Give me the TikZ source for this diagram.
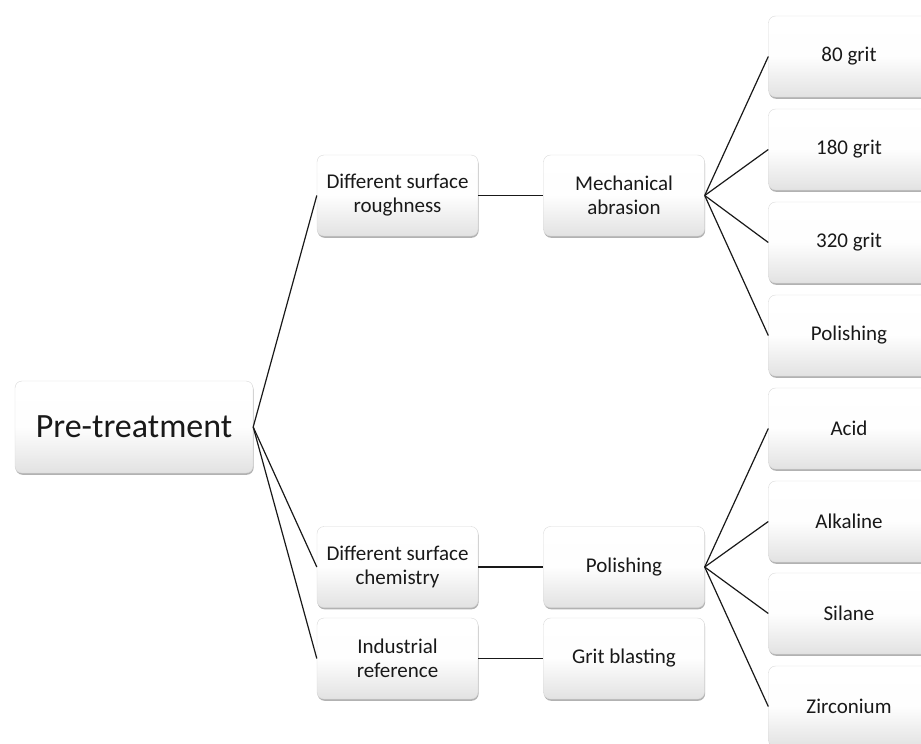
\documentclass[tikz,border=0pt]{standalone}
\usepackage{fontspec}
\setmainfont{Carlito}
\usetikzlibrary{shadows}
\definecolor{boxbot}{HTML}{E2E2E2}
\definecolor{boxedge}{HTML}{D8D8D8}
\begin{document}
\begin{tikzpicture}[x=1pt,y=-1pt,
  box/.style={rectangle, rounded corners=7pt, draw=boxedge, line width=0.4pt,
    top color=white, bottom color=boxbot, middle color=white!96!boxbot,
    drop shadow={shadow xshift=0.6pt, shadow yshift=-1.8pt, opacity=0.55, fill=black!55},
    align=center, font=\fontsize{21}{24}\selectfont, text=black!90,
    minimum width=161pt, minimum height=81pt, inner sep=2pt},
  bigbox/.style={box, font=\fontsize{34}{38}\selectfont, minimum width=238pt, minimum height=92pt},
  link/.style={draw=black!90, line width=1.2pt}]
\useasboundingbox (0,0) rectangle (921,744);
\clip (0,0) rectangle (921,744);
\fill[white] (0,0) rectangle (921,744);
% nodes
\node[bigbox] (pre) at (134,427) {Pre-treatment};
\node[box] (dsr) at (397.5,195.5) {Different surface\\roughness};
\node[box] (mab) at (624,195.5) {Mechanical\\abrasion};
\node[box] (dsc) at (397.5,567) {Different surface\\chemistry};
\node[box] (pol) at (624,567) {Polishing};
\node[box] (ind) at (397.5,658.5) {Industrial\\reference};
\node[box] (grb) at (624,658.5) {Grit blasting};
\node[box] (g80) at (849,56.5) {80 grit};
\node[box] (g180) at (849,149.5) {180 grit};
\node[box] (g320) at (849,242.5) {320 grit};
\node[box] (gpol) at (849,335.5) {Polishing};
\node[box] (acid) at (849,428.5) {Acid};
\node[box] (alk) at (849,521.5) {Alkaline};
\node[box] (sil) at (849,613.5) {Silane};
\node[box] (zir) at (849,706.5) {Zirconium};
% connectors
\foreach \t in {dsr,dsc,ind} \draw[link] (pre.east) -- (\t.west);
\draw[link] (dsr.east) -- (mab.west);
\draw[link] (dsc.east) -- (pol.west);
\draw[link] (ind.east) -- (grb.west);
\foreach \t in {g80,g180,g320,gpol} \draw[link] (mab.east) -- (\t.west);
\foreach \t in {acid,alk,sil,zir} \draw[link] (pol.east) -- (\t.west);
\end{tikzpicture}
\end{document}
